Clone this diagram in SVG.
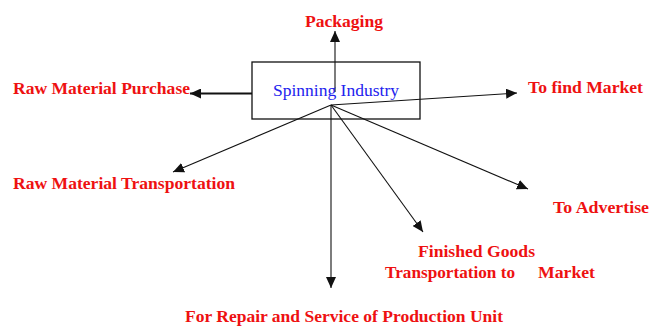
<svg xmlns="http://www.w3.org/2000/svg" width="662" height="329" viewBox="0 0 662 329">
  <style>
    .lbl { font-family: "Liberation Serif", "Times New Roman", serif; font-weight: bold; font-size: 17px; fill: #ee1111; }
    .core { font-family: "Liberation Serif", "Times New Roman", serif; font-size: 17.5px; fill: #2222ee; }
    .edge { stroke: #111; stroke-width: 1.1; fill: none; marker-end: url(#tip); }
  </style>
  <defs>
    <marker id="tip" markerUnits="userSpaceOnUse" markerWidth="12" markerHeight="10" refX="11" refY="5" orient="auto">
      <path d="M0,0 L11,5 L0,10 Z" fill="#111"/>
    </marker>
  </defs>
  <rect width="662" height="329" fill="#fff"/>

  <g id="connectors">
    <line class="edge" x1="335" y1="92" x2="335" y2="31"/>
    <line class="edge" x1="252" y1="93.5" x2="190" y2="93.5" style="stroke-width:1.8"/>
    <line class="edge" x1="331" y1="105" x2="517" y2="93"/>
    <line class="edge" x1="331" y1="105" x2="173" y2="172"/>
    <line class="edge" x1="331" y1="105" x2="528" y2="189"/>
    <line class="edge" x1="331" y1="105" x2="423" y2="232"/>
    <line class="edge" x1="331" y1="105" x2="331" y2="288"/>
  </g>

  <g id="spinning-industry">
    <rect x="252" y="62" width="168" height="57" fill="none" stroke="#111" stroke-width="1.3"/>
    <text class="core" x="273" y="96" textLength="126" lengthAdjust="spacingAndGlyphs">Spinning Industry</text>
  </g>

  <g id="packaging">
    <text class="lbl" x="305" y="27" textLength="78" lengthAdjust="spacingAndGlyphs">Packaging</text>
  </g>
  <g id="raw-material-purchase">
    <text class="lbl" x="13" y="94" textLength="177" lengthAdjust="spacingAndGlyphs">Raw Material Purchase</text>
  </g>
  <g id="to-find-market">
    <text class="lbl" x="528" y="93" textLength="115" lengthAdjust="spacingAndGlyphs">To find Market</text>
  </g>
  <g id="raw-material-transportation">
    <text class="lbl" x="13" y="189" textLength="222" lengthAdjust="spacingAndGlyphs">Raw Material Transportation</text>
  </g>
  <g id="to-advertise">
    <text class="lbl" x="553" y="213" textLength="96" lengthAdjust="spacingAndGlyphs">To Advertise</text>
  </g>
  <g id="finished-goods">
    <text class="lbl" x="418" y="257" textLength="117" lengthAdjust="spacingAndGlyphs">Finished Goods</text>
    <text class="lbl" x="385" y="278" textLength="130" lengthAdjust="spacingAndGlyphs">Transportation to</text>
    <text class="lbl" x="538" y="278" textLength="57" lengthAdjust="spacingAndGlyphs">Market</text>
  </g>
  <g id="repair-service">
    <text class="lbl" x="185" y="322" textLength="318" lengthAdjust="spacingAndGlyphs">For Repair and Service of Production Unit</text>
  </g>
</svg>
